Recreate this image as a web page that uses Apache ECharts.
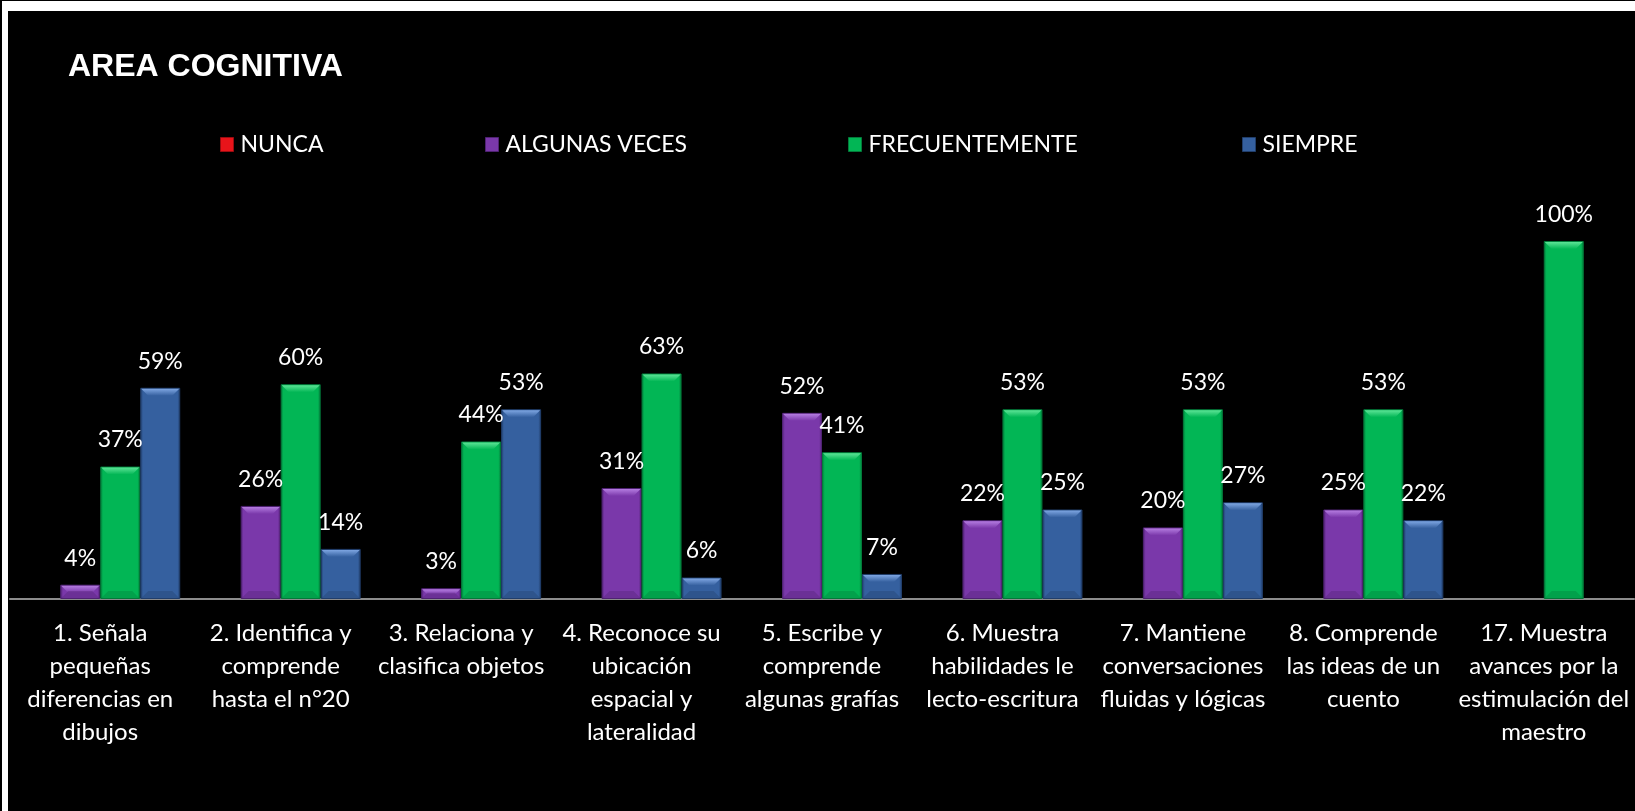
<!DOCTYPE html>
<html>
<head>
<meta charset="utf-8">
<script src="https://cdn.jsdelivr.net/npm/echarts@6/dist/echarts.min.js"></script>
<style>
html,body{margin:0;padding:0;background:#000;}
#chart{width:1635px;height:811px;}
</style>
</head>
<body>
<div id="chart"></div>
<script>
const categories = [
  "1. Señala\npequeñas\ndiferencias en\ndibujos",
  "2. Identifica y\ncomprende\nhasta el n°20",
  "3. Relaciona y\nclasifica objetos",
  "4. Reconoce su\nubicación\nespacial y\nlateralidad",
  "5. Escribe y\ncomprende\nalgunas grafías",
  "6. Muestra\nhabilidades le\nlecto-escritura",
  "7. Mantiene\nconversaciones\nfluidas y lógicas",
  "8. Comprende\nlas ideas de un\ncuento",
  "17. Muestra\navances por la\nestimulación del\nmaestro"
];
const seriesNames = ["NUNCA", "ALGUNAS VECES", "FRECUENTEMENTE", "SIEMPRE"];
const nunca = [null, null, null, null, null, null, null, null, null];
const algunasVeces = [4, 26, 3, 31, 52, 22, 20, 25, null];
const frecuentemente = [37, 60, 44, 63, 41, 53, 53, 53, 100];
const siempre = [59, 14, 53, 6, 7, 25, 27, 22, null];

const baseColors = ["#e8141a", "#7a38aa", "#02b655", "#35609f"];
const edgeColors = ["#9a0c10", "#4f2272", "#037a3a", "#213e6b"];
const topColors  = ["#ff7070", "#b47ce0", "#5ce496", "#7ea6e2"];

const BAR_W = 40;

function barGradient(i) {
  return new echarts.graphic.LinearGradient(0, 0, 1, 0, [
    {offset: 0, color: edgeColors[i]},
    {offset: 0.07, color: baseColors[i]},
    {offset: 0.93, color: baseColors[i]},
    {offset: 1, color: edgeColors[i]}
  ]);
}

const dataSets = [nunca, algunasVeces, frecuentemente, siempre];
const font = "Lato, 'Open Sans', sans-serif";

const series = dataSets.map((d, i) => ({
  name: seriesNames[i],
  type: 'bar',
  data: d,
  barWidth: BAR_W,
  barGap: '0%',
  itemStyle: {
    color: barGradient(i),
    borderColor: edgeColors[i],
    borderWidth: 1
  },
  label: {
    show: true,
    position: 'top',
    distance: 15,
    color: '#ffffff',
    fontFamily: font,
    fontSize: 23,
    formatter: p => (p.value == null ? '' : p.value + '%')
  }
}));

// bevel highlight on top of each bar, positioned through the axis scales
const bevelData = [];
dataSets.forEach((d, si) => d.forEach((v, ci) => { if (v != null) bevelData.push([ci, v, si]); }));
series.push({
  type: 'custom',
  silent: true,
  z: 5,
  data: bevelData,
  encode: {x: 0, y: 1},
  renderItem: function (params, api) {
    const ci = api.value(0), v = api.value(1), si = api.value(2);
    const top = api.coord([ci, v]);
    const base = api.coord([ci, 0]);
    const x0 = top[0] - 2 * BAR_W + si * BAR_W + 1;
    const x1 = x0 + BAR_W - 2;
    const y0 = top[1] + 1;
    const h = Math.min(7, (base[1] - top[1]) / 2);
    const inset = Math.min(7, h);
    return {
      type: 'group',
      children: [
        {
          type: 'polygon',
          shape: {points: [[x0, y0], [x1, y0], [x1 - inset, y0 + h], [x0 + inset, y0 + h]]},
          style: {fill: new echarts.graphic.LinearGradient(0, 0, 0, 1, [
            {offset: 0, color: topColors[si]},
            {offset: 1, color: baseColors[si]}
          ])}
        },
        {
          type: 'polygon',
          shape: {points: [[x0, base[1] - 1], [x1, base[1] - 1], [x1 - inset, base[1] - 1 - h], [x0 + inset, base[1] - 1 - h]]},
          style: {fill: edgeColors[si], opacity: 0.35}
        }
      ]
    };
  }
});

const legendLefts = [215, 480, 843, 1237];
const legends = seriesNames.map((n, i) => ({
  data: [{name: n, icon: 'rect', itemStyle: {color: baseColors[i], borderColor: edgeColors[i], borderWidth: 1}}],
  left: legendLefts[i],
  top: 128,
  itemWidth: 13,
  itemHeight: 14,
  itemGap: 6,
  textStyle: {color: '#ffffff', fontFamily: font, fontSize: 23, padding: [0, 0, 0, 2]},
  selectedMode: false
}));

const chart = echarts.init(document.getElementById('chart'), null, {renderer: 'canvas'});
chart.setOption({
  backgroundColor: '#000000',
  animation: false,
  title: {
    text: 'AREA COGNITIVA',
    left: 63,
    top: 46,
    textStyle: {color: '#ffffff', fontFamily: "'Liberation Sans', Arial, sans-serif", fontWeight: 'bold', fontSize: 32}
  },
  legend: legends,
  grid: {left: 10, right: 1, top: 241, bottom: 212, containLabel: false},
  xAxis: {
    type: 'category',
    data: categories,
    axisLine: {show: true, lineStyle: {color: '#8c8c8c', width: 2}},
    axisTick: {show: false},
    axisLabel: {
      interval: 0,
      color: '#ffffff',
      fontFamily: font,
      fontSize: 24,
      lineHeight: 33,
      margin: 18,
      align: 'center'
    }
  },
  yAxis: {
    type: 'value',
    min: 0,
    max: 100,
    show: false
  },
  graphic: [
    {type: 'rect', shape: {x: 0, y: 0, width: 1635, height: 1}, style: {fill: '#000'}, z: 100},
    {type: 'rect', shape: {x: 2, y: 1, width: 1633, height: 10}, style: {fill: '#ffffff'}, z: 100},
    {type: 'rect', shape: {x: 2, y: 1, width: 6, height: 810}, style: {fill: '#ffffff'}, z: 100}
  ],
  series: series
});
</script>
</body>
</html>
